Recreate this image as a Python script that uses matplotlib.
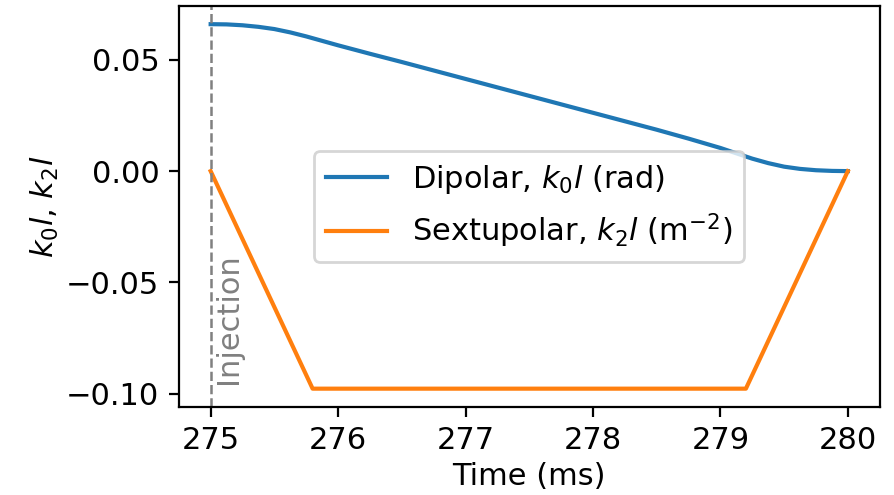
import matplotlib
matplotlib.use("Agg")
import matplotlib.pyplot as plt

# dipole kick vs time
t_dip = [275.000, 275.125, 275.250, 275.375, 275.500, 275.625, 275.750,
         276.000, 276.250, 276.500, 276.750, 277.000, 277.250, 277.500,
         277.750, 278.000, 278.250, 278.500, 278.750, 279.000, 279.250,
         279.375, 279.500, 279.625, 279.750, 279.875, 280.000]
k0l = [0.0660, 0.0659, 0.0655, 0.0648, 0.0638, 0.0623, 0.0605,
       0.0565, 0.0527, 0.0490, 0.0452, 0.0414, 0.0376, 0.0338,
       0.0300, 0.0262, 0.0224, 0.0186, 0.0146, 0.0104, 0.0056,
       0.0036, 0.0020, 0.0010, 0.0004, 0.0001, 0.0000]

# sextupole ramp
t_sext = [275.0, 275.8, 279.2, 280.0]
k2l = [0.0, -0.0977, -0.0977, 0.0]

t_inj = 275.0

plt.rcParams['font.size'] = 11

fig = plt.figure(figsize=(4.47, 2.475), dpi=200)
ax = fig.add_axes([0.200, 0.178, 0.784, 0.810])

ax.plot(t_dip, k0l, color='#1f77b4', label=r'Dipolar, $k_0l$ (rad)')
ax.plot(t_sext, k2l, color='#ff7f0e', label=r'Sextupolar, $k_2l$ (m$^{-2}$)')

ax.axvline(t_inj, color='gray', ls='--', lw=0.9)
ax.text(t_inj + 0.03, -0.0958, 'Injection', rotation=90, color='gray',
        ha='left', va='bottom')

ax.set_xlabel('Time (ms)', labelpad=2.5)
ax.set_ylabel(r'$k_0l$, $k_2l$', labelpad=2)
ax.set_yticks([-0.10, -0.05, 0.00, 0.05])
ax.legend(loc='center')

plt.savefig('out.png', dpi=200)
